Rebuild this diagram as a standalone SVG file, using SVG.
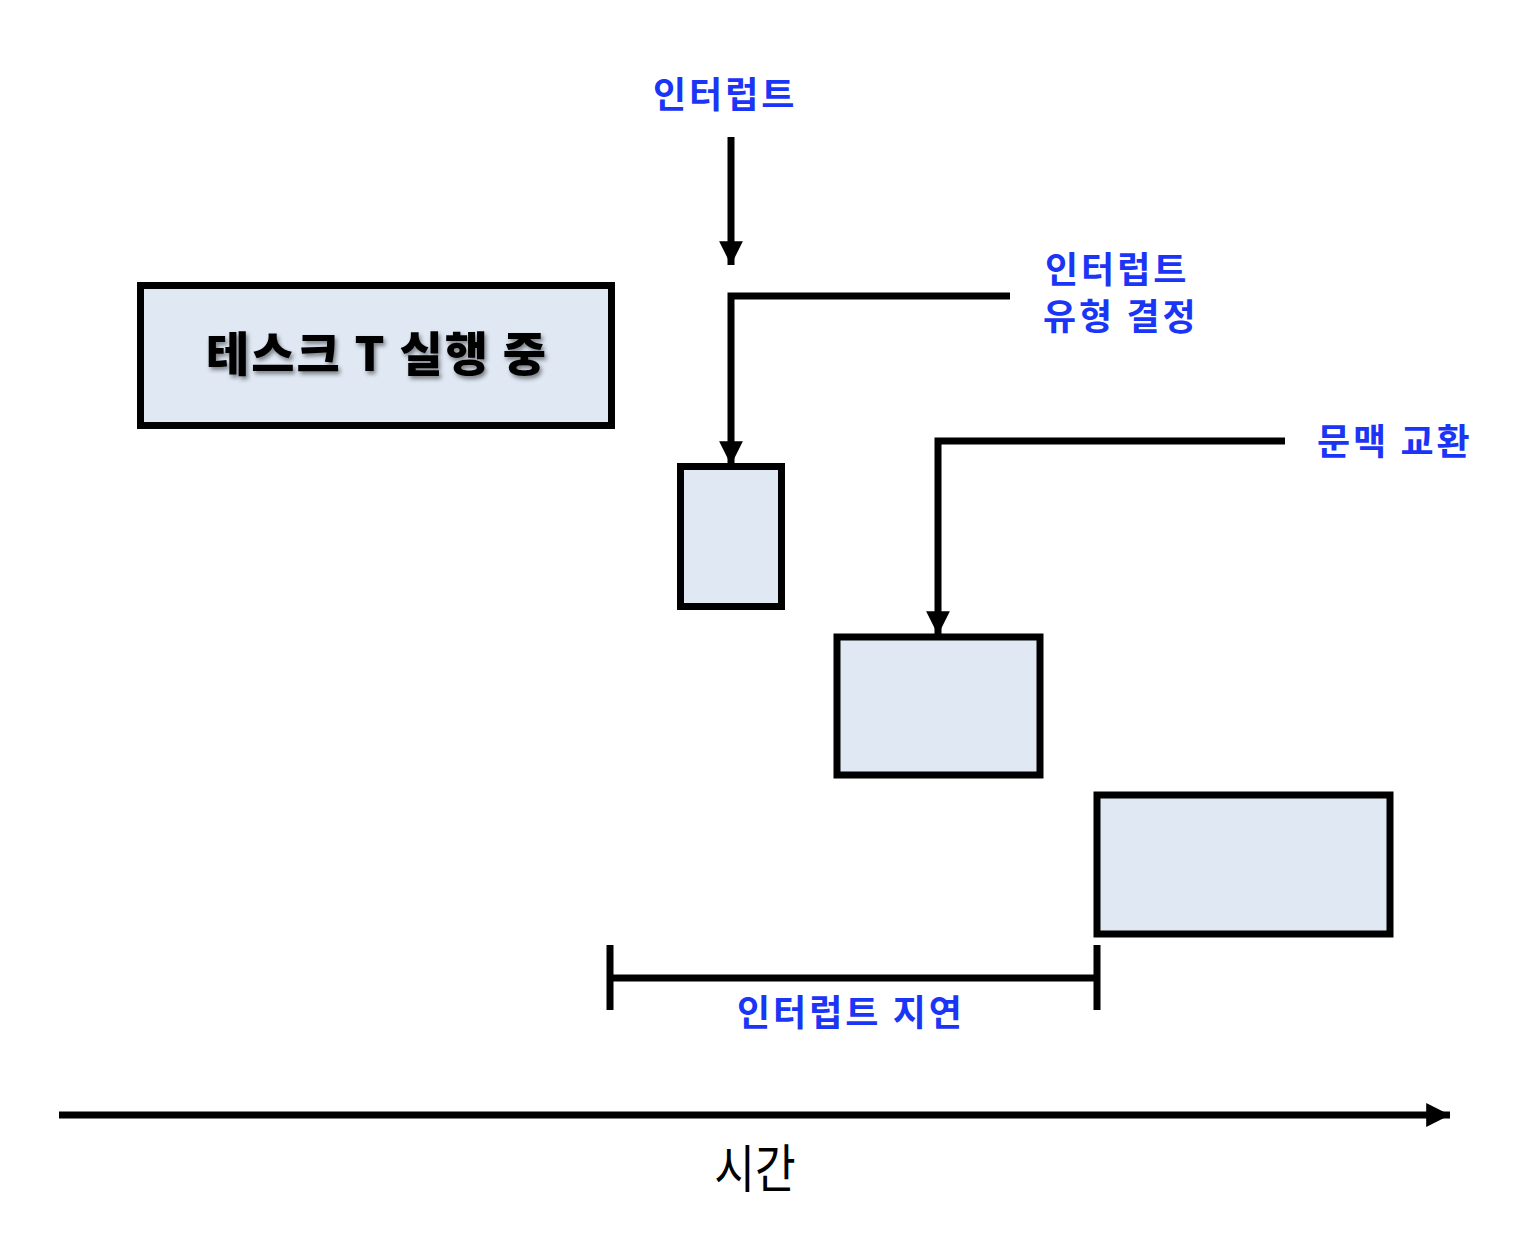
<svg xmlns="http://www.w3.org/2000/svg" width="1526" height="1244" viewBox="0 0 1526 1244">
<style>
.box{fill:#DFE8F3;stroke:#000;stroke-width:7}
.ln{fill:none;stroke:#000;stroke-width:7}
.lbl{font-family:"Noto Sans CJK KR","Noto Sans",sans-serif;font-weight:700;font-size:36px;fill:#1A35F5;letter-spacing:3px}
.title{font-family:"Noto Sans CJK KR","Noto Sans",sans-serif;font-weight:900;font-size:47px;fill:#000;letter-spacing:2px}
.time{font-family:"Noto Sans CJK KR","Noto Sans",sans-serif;font-weight:400;font-size:52px;fill:#000}
</style>
<defs>
<marker id="ah" viewBox="0 0 10 10" refX="10" refY="5" markerWidth="3.4" markerHeight="3.4" markerUnits="strokeWidth" orient="auto">
<path d="M0,0 L10,5 L0,10 z" fill="#000"/>
</marker>
<filter id="sh" x="-10%" y="-30%" width="120%" height="160%">
<feDropShadow dx="2" dy="3" stdDeviation="2" flood-color="#000" flood-opacity="0.45"/>
</filter>
</defs>
<rect width="1526" height="1244" fill="#fff"/>
<g id="task">
<rect class="box" x="140.5" y="285.5" width="471" height="140"/>
<text class="title" x="377" y="371" text-anchor="middle" filter="url(#sh)">테스크 T 실행 중</text>
</g>
<g id="box-type">
<rect class="box" x="680.5" y="466.5" width="101" height="140"/>
</g>
<g id="box-ctx">
<rect class="box" x="837" y="637" width="203" height="138"/>
</g>
<g id="box-run">
<rect class="box" x="1097" y="795" width="293" height="139"/>
</g>
<g id="labels">
<text class="lbl" x="653" y="108">인터럽트</text>
<text class="lbl" x="1045" y="283">인터럽트</text>
<text class="lbl" x="1043" y="330">유형 결정</text>
<text class="lbl" x="1317" y="455">문맥 교환</text>
<text class="lbl" x="737" y="1026">인터럽트 지연</text>
<text class="time" x="755" y="1188" text-anchor="middle" transform="translate(755 0) scale(0.85 1) translate(-755 0)">시간</text>
</g>
<g id="connectors">
<path class="ln" d="M731,137 V265" marker-end="url(#ah)"/>
<path class="ln" d="M1010,296 H731 V465" marker-end="url(#ah)"/>
<path class="ln" d="M1285,441 H938 V635" marker-end="url(#ah)"/>
<path class="ln" d="M610,945 V1010 M1097,945 V1010" stroke-width="5"/>
<path class="ln" d="M610,978 H1097" stroke-width="6"/>
<path class="ln" d="M59,1115 H1450" marker-end="url(#ah)"/>
</g>
</svg>
